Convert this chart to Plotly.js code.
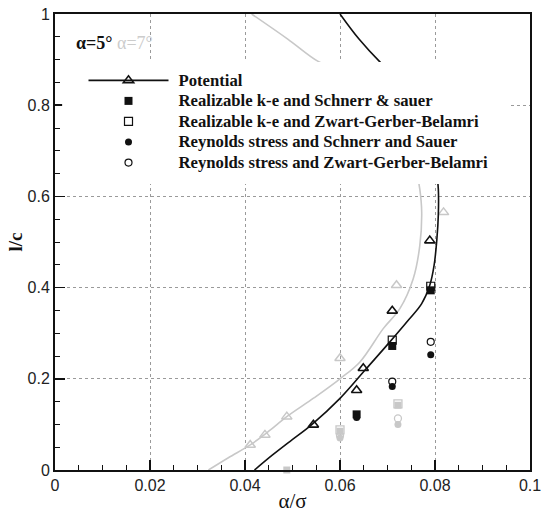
<!DOCTYPE html>
<html>
<head>
<meta charset="utf-8">
<script src="https://cdn.plot.ly/plotly-3.0.1.min.js"></script>
<style>
html,body{margin:0;padding:0;background:#fff;}
#chart{width:541px;height:517px;}
#chart .legendtext{font-size:16.7px !important; transform: translate(5px, 0px);}
#chart .legend .scrollbox{clip-path:none !important;}
</style>
</head>
<body>
<div id="chart"></div>
<script>
// Potential curve, alpha = 5 deg (black)
const pot5X = [0.0420, 0.0458, 0.0495, 0.0540, 0.0600, 0.0656, 0.0705, 0.0745, 0.0772, 0.0789, 0.0798, 0.0804, 0.0807, 0.0807, 0.0803, 0.0793, 0.0777, 0.0755, 0.0725, 0.0684, 0.0640, 0.0600];
const pot5Y = [0.000, 0.033, 0.063, 0.099, 0.157, 0.223, 0.281, 0.330, 0.365, 0.405, 0.448, 0.507, 0.560, 0.616, 0.660, 0.710, 0.760, 0.810, 0.855, 0.895, 0.945, 1.000];
// Potential curve, alpha = 7 deg (grey)
const pot7X = [0.0323, 0.0365, 0.0411, 0.0450, 0.0488, 0.0545, 0.0600, 0.0642, 0.0691, 0.0726, 0.0754, 0.0768, 0.0772, 0.0768, 0.0760, 0.0745, 0.0722, 0.0690, 0.0650, 0.0600, 0.0554, 0.0490, 0.0414];
const pot7Y = [0.000, 0.027, 0.055, 0.085, 0.117, 0.158, 0.200, 0.237, 0.310, 0.354, 0.419, 0.492, 0.565, 0.616, 0.660, 0.710, 0.760, 0.810, 0.850, 0.876, 0.896, 0.945, 1.000];
// Potential markers
const potPts5X = [0.0544, 0.0635, 0.0649, 0.0710, 0.0789];
const potPts5Y = [0.099, 0.175, 0.223, 0.349, 0.503];
const potPts7X = [0.0411, 0.0442, 0.0488, 0.0600, 0.0719, 0.0818];
const potPts7Y = [0.055, 0.077, 0.117, 0.245, 0.405, 0.565];
// CFD results alpha = 5 deg
const rkeSS5X = [0.0635, 0.0710, 0.0791];
const rkeSS5Y = [0.122, 0.272, 0.394];
const rkeZGB5X = [0.0710, 0.0791];
const rkeZGB5Y = [0.285, 0.403];
const rsSS5X = [0.0635, 0.0710, 0.0791];
const rsSS5Y = [0.115, 0.183, 0.253];
const rsZGB5X = [0.0710, 0.0791];
const rsZGB5Y = [0.194, 0.281];
// CFD results alpha = 7 deg
const rkeSS7X = [0.0488, 0.0600, 0.0722];
const rkeSS7Y = [0.000, 0.085, 0.142];
const rkeZGB7X = [0.0600, 0.0722];
const rkeZGB7Y = [0.088, 0.145];
const rsSS7X = [0.0600, 0.0722];
const rsSS7Y = [0.070, 0.100];
const rsZGB7X = [0.0600, 0.0722];
const rsZGB7Y = [0.075, 0.113];

const names = ['Potential', 'Realizable k-e and Schnerr &amp; sauer', 'Realizable k-e and Zwart-Gerber-Belamri', 'Reynolds stress and Schnerr and Sauer', 'Reynolds stress and Zwart-Gerber-Belamri'];
const xTicks = [0, 0.02, 0.04, 0.06, 0.08, 0.1];
const xTickText = ['0', '0.02', '0.04', '0.06', '0.08', '0.1'];
const yTicks = [0, 0.2, 0.4, 0.6, 0.8, 1];
const yTickText = ['0', '0.2', '0.4', '0.6', '0.8', '1'];

const BLK = '#111111';
const GRY = '#c8c8c8';

const traces = [
  {x: pot7X, y: pot7Y, mode: 'lines', line: {color: GRY, width: 1.6, shape: 'spline', smoothing: 1}, showlegend: false, hoverinfo: 'skip'},
  {x: potPts7X, y: potPts7Y, mode: 'markers', marker: {symbol: 'triangle-up-open', size: 9, color: GRY, line: {width: 1.5, color: GRY}}, showlegend: false},
  {x: rkeSS7X, y: rkeSS7Y, mode: 'markers', cliponaxis: false, marker: {symbol: 'square', size: 7, color: GRY}, showlegend: false},
  {x: rkeZGB7X, y: rkeZGB7Y, mode: 'markers', marker: {symbol: 'square-open', size: 8, color: GRY, line: {width: 1.3, color: GRY}}, showlegend: false},
  {x: rsSS7X, y: rsSS7Y, mode: 'markers', marker: {symbol: 'circle', size: 7, color: GRY}, showlegend: false},
  {x: rsZGB7X, y: rsZGB7Y, mode: 'markers', marker: {symbol: 'circle-open', size: 7, color: GRY, line: {width: 1.3, color: GRY}}, showlegend: false},
  {x: pot5X, y: pot5Y, mode: 'lines', line: {color: BLK, width: 1.6, shape: 'spline', smoothing: 1}, showlegend: false, hoverinfo: 'skip'},
  {x: potPts5X, y: potPts5Y, mode: 'markers', marker: {symbol: 'triangle-up-open', size: 9, color: BLK, line: {width: 1.6, color: BLK}}, showlegend: false},
  {x: [null], y: [null], name: names[0], mode: 'lines+markers', line: {color: BLK, width: 1.6}, marker: {symbol: 'triangle-up-open', size: 9, color: BLK, line: {width: 1.6, color: BLK}}},
  {x: rkeSS5X, y: rkeSS5Y, name: names[1], mode: 'markers', marker: {symbol: 'square', size: 8, color: BLK}},
  {x: rkeZGB5X, y: rkeZGB5Y, name: names[2], mode: 'markers', marker: {symbol: 'square-open', size: 8, color: BLK, line: {width: 1.2, color: BLK}}},
  {x: rsSS5X, y: rsSS5Y, name: names[3], mode: 'markers', marker: {symbol: 'circle', size: 7, color: BLK}},
  {x: rsZGB5X, y: rsZGB5Y, name: names[4], mode: 'markers', marker: {symbol: 'circle-open', size: 7, color: BLK, line: {width: 1.2, color: BLK}}}
];

const axisCommon = {
  showline: true, linecolor: '#111', linewidth: 2, mirror: true,
  showgrid: true, gridcolor: '#9a9a9a', griddash: 'dot', gridwidth: 1,
  zeroline: false, ticks: 'inside', ticklen: 10, tickwidth: 1.5, tickcolor: '#111',
  tickmode: 'array', ticklabeloverflow: 'allow',
  tickfont: {family: 'Liberation Sans, Arial, sans-serif', size: 16, color: '#222'},
  minor: {ticks: 'inside', ticklen: 5, tickwidth: 1, tickcolor: '#111', showgrid: false}
};

const layout = {
  width: 541, height: 517,
  margin: {l: 55, r: 11, t: 14, b: 47},
  paper_bgcolor: '#fff', plot_bgcolor: '#fff',
  showlegend: true,
  xaxis: Object.assign({}, axisCommon, {
    range: [0, 0.1], tickvals: xTicks, ticktext: xTickText,
    minor: Object.assign({}, axisCommon.minor, {dtick: 0.005, tick0: 0}),
    title: {text: 'α/σ', font: {family: 'Liberation Serif, Times New Roman, serif', size: 21, color: '#111'}, standoff: 0}
  }),
  yaxis: Object.assign({}, axisCommon, {
    range: [0, 1], tickvals: yTicks, ticktext: yTickText,
    minor: Object.assign({}, axisCommon.minor, {dtick: 0.05, tick0: 0}),
    title: {text: '<b>l/c</b>', font: {family: 'Liberation Serif, Times New Roman, serif', size: 19, color: '#111'}, standoff: 0}
  }),
  shapes: [
    {type: 'rect', xref: 'x', yref: 'y', x0: 0.0015, x1: 0.0958, y0: 0.627, y1: 0.895, fillcolor: '#ffffff', opacity: 1, line: {width: 0}, layer: 'above'}
  ],
  annotations: [
    {xref: 'paper', yref: 'paper', x: 0.04, y: 0.937, xanchor: 'left', yanchor: 'middle', showarrow: false,
     text: '<b>α=5°</b> <span style="color:#cccccc">α=7°</span>',
     font: {family: 'Liberation Serif, Times New Roman, serif', size: 18, color: '#111'}}
  ],
  legend: {
    x: 0.06, y: 0.888, xanchor: 'left', yanchor: 'top',
    bgcolor: 'rgba(0,0,0,0)', borderwidth: 0,
    itemwidth: 80, tracegroupgap: 0,
    font: {family: 'Liberation Serif, Times New Roman, serif', size: 13.5, color: '#111', weight: 'bold'}
  }
};

Plotly.newPlot('chart', traces, layout, {staticPlot: true, displayModeBar: false});
</script>
</body>
</html>
